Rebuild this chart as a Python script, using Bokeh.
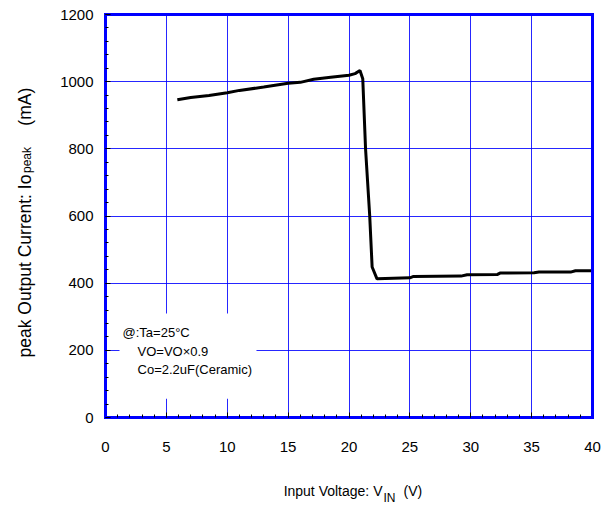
import math
from bokeh.plotting import figure
from bokeh.models import Range1d, FixedTicker, Label, BoxAnnotation, LinearAxis
from bokeh.embed import file_html
from bokeh.resources import INLINE

# ---- data ----
vin = [5.9, 7.0, 8.5, 10.0, 11.0, 13.0, 15.0, 16.0, 17.1, 18.5, 20.0, 20.5, 20.9,
       21.13, 21.36, 21.7, 21.9, 22.3, 25.0, 25.3, 29.2, 29.7, 32.2, 32.4, 35.2,
       35.6, 38.2, 38.6, 40.0]
iopeak = [946, 953, 959, 967, 974, 984, 995, 998, 1007, 1013, 1019, 1024, 1033,
          1009, 800, 601, 448, 413, 416, 420, 421, 425, 426, 430, 431,
          433, 433, 437, 437]

x_ticks = [0, 5, 10, 15, 20, 25, 30, 35, 40]
y_ticks = [0, 200, 400, 600, 800, 1000, 1200]
x_minor = list(range(0, 41))
y_minor = list(range(0, 1201, 40))

notes = ["@:Ta=25°C", "VO=VO×0.9", "Co=2.2uF(Ceramic)"]

# ---- layout: the plot frame covers the whole canvas; axes are pinned ----
W, H = 610, 505
PX_PER_V = 12.175
PX_PER_MA = 0.33583
X0_PX, Y0_PX = 105, 417          # canvas position of (0 V, 0 mA)
xr = Range1d(-X0_PX / PX_PER_V, (W - X0_PX) / PX_PER_V)
yr = Range1d(-(H - Y0_PX) / PX_PER_MA, Y0_PX / PX_PER_MA)

BLUE = "#0000ff"
FONT = "Liberation Sans"

p = figure(width=W, height=H, output_backend="svg", toolbar_location=None,
           x_range=xr, y_range=yr, title=None,
           min_border_left=0, min_border_right=0, min_border_top=0,
           min_border_bottom=0)
p.background_fill_color = "white"
p.border_fill_color = "white"
p.outline_line_color = None

XB = (x_ticks[0], x_ticks[-1])
YB = (y_ticks[0], y_ticks[-1])

def style_axis(ax):
    ax.axis_line_color = BLUE
    ax.axis_line_width = 3
    ax.axis_line_cap = "square"
    ax.major_tick_in = 5
    ax.major_tick_out = 0
    ax.minor_tick_in = 3
    ax.minor_tick_out = 0
    ax.major_tick_line_color = "black"
    ax.minor_tick_line_color = "black"
    ax.major_label_text_font = FONT
    ax.major_label_text_font_size = "15px"
    ax.major_label_text_color = "black"

xa = p.xaxis[0]
ya = p.yaxis[0]
xa.ticker = FixedTicker(ticks=x_ticks, minor_ticks=x_minor)
ya.ticker = FixedTicker(ticks=y_ticks, minor_ticks=y_minor)
style_axis(xa)
style_axis(ya)
xa.fixed_location = YB[0]
ya.fixed_location = XB[0]
xa.bounds = XB
ya.bounds = YB
xa.major_label_standoff = 24
ya.major_label_standoff = 12

# top and right frame lines
top = LinearAxis(ticker=FixedTicker(ticks=[]), fixed_location=YB[1], bounds=XB)
right = LinearAxis(ticker=FixedTicker(ticks=[]), fixed_location=XB[1], bounds=YB)
for ax in (top, right):
    style_axis(ax)
p.add_layout(top, "above")
p.add_layout(right, "right")

xg = p.xgrid[0]
yg = p.ygrid[0]
xg.bounds = XB
xg.cross_bounds = YB
yg.bounds = YB
yg.cross_bounds = XB
for g in (xg, yg):
    g.grid_line_color = BLUE
    g.grid_line_width = 1
    g.grid_line_alpha = 0.85

# white box behind the notes
p.add_layout(BoxAnnotation(left=1.15, right=12.4, bottom=56, top=310,
                           fill_color="white", fill_alpha=1.0, line_alpha=0))

p.line(vin, iopeak, line_color="black", line_width=3)

# notes
note_pos = [(1.40, 253), (2.63, 196.5), (2.63, 143)]
for t, (nx, ny) in zip(notes, note_pos):
    p.add_layout(Label(x=nx, y=ny, text=t, text_font=FONT, text_font_size="13px",
                       text_baseline="middle", text_align="left", text_color="black"))

def add_text(x, y, text, size, align="left", angle=0.0):
    p.add_layout(Label(x=x, y=y, text=text, text_font=FONT, text_font_size=size,
                       text_align=align, text_baseline="middle", text_color="black",
                       angle=angle))

# x axis title with subscript
add_text(22.75, -220, "Input Voltage: V", "14px", align="right")
add_text(22.83, -241, "IN", "12px")
add_text(24.48, -220, "(V)", "14px")

# y axis title with subscript (rotated)
add_text(-6.65, 178.7, "peak Output Current: Io", "17.5px", angle=math.pi / 2)
add_text(-6.43, 728, "peak", "12px", angle=math.pi / 2)
add_text(-6.65, 869, "(mA)", "17.5px", angle=math.pi / 2)

open("out.html", "w").write(file_html(p, INLINE))
